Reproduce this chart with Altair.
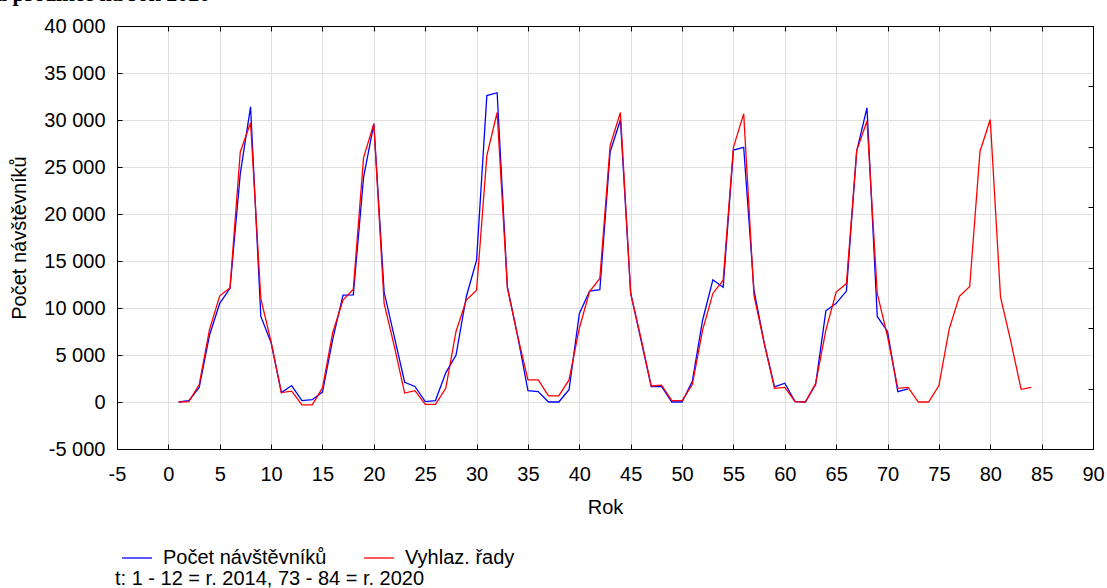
import altair as alt
import pandas as pd

# ---- data ----
t_blue = list(range(1, 73))
visitors = [0, 150, 1550, 7100, 10500, 12100, 24300, 31400, 9100, 6300, 1000, 1750,
            150, 250, 1050, 6700, 11370, 11400, 23900, 29600, 11700, 6900, 2100, 1650,
            50, 150, 3100, 5000, 11200, 15100, 32600, 32900, 12250, 7000, 1200, 1100,
            0, 0, 1300, 9400, 11800, 11950, 26600, 30000, 11550, 6600, 1650, 1650,
            0, 0, 2200, 8700, 13000, 12200, 26800, 27100, 11900, 6250, 1600, 2000,
            50, 0, 1850, 9700, 10500, 11800, 26700, 31300, 9100, 7500, 1100, 1400]
t_red = list(range(1, 85))
smoothed = [0, 50, 1850, 7700, 11300, 12150, 26600, 29700, 11000, 6400, 1000, 1150,
            -300, -300, 1500, 7400, 10850, 12000, 26000, 29600, 10500, 5900, 950, 1200,
            -250, -250, 1450, 7500, 10850, 11900, 26200, 30800, 12100, 7000, 2350, 2350,
            650, 650, 2350, 7850, 11750, 13150, 27300, 30800, 11550, 6800, 1700, 1800,
            150, 150, 1850, 7650, 11550, 12950, 27100, 30650, 11350, 6250, 1450, 1550,
            50, 0, 1950, 7650, 11700, 12600, 26750, 29900, 11550, 6950, 1450, 1550,
            0, 0, 1750, 7750, 11250, 12300, 26650, 30050, 11150, 6450, 1350, 1550]
series_names = ["Počet návštěvníků", "Vyhlaz. řady"]
series_colors = ["#0000ff", "#ff0000"]
x_ticks = list(range(-5, 91, 5))
y_ticks = list(range(-5000, 40001, 5000))
right_ticks = list(range(0, 8))
title_text = ["a predikce na rok 2020"]
note_text = ["t: 1 - 12 = r. 2014, 73 - 84 = r. 2020"]
x_title = "Rok"
y_title = "Počet návštěvníků"

FONT = "Liberation Sans"
FS = 20

df = pd.concat([
    pd.DataFrame({"t": t_blue, "v": visitors, "s": series_names[0]}),
    pd.DataFrame({"t": t_red, "v": smoothed, "s": series_names[1]}),
], ignore_index=True)

xscale = alt.Scale(domain=[-5, 90], nice=False, zero=False)
yscale = alt.Scale(domain=[-5000, 40000], nice=False, zero=False)

inward = alt.ExprRef(expr="-5")

lines = alt.Chart(df).mark_line(strokeWidth=1.3, clip=True).encode(
    x=alt.X("t:Q", scale=xscale,
            axis=alt.Axis(values=x_ticks, title=x_title, grid=True, gridColor="#e0e0e0",
                          tickSize=inward, tickColor="black", domainColor="black",
                          labelPadding=20, titlePadding=13,
                          labelExpr="datum.value < 0 ? '-' + abs(datum.value) : '' + datum.value",
                          labelFlush=False)),
    y=alt.Y("v:Q", scale=yscale,
            axis=alt.Axis(values=y_ticks, title=y_title, grid=True, gridColor="#e0e0e0",
                          tickSize=inward, tickColor="black", domainColor="black",
                          labelPadding=17, titlePadding=14,
                          labelExpr="(datum.value < 0 ? '-' : '') + (abs(datum.value) >= 1000 ? floor(abs(datum.value)/1000) + ' 000' : '0')",
                          labelFlush=False)),
    color=alt.Color("s:N", scale=alt.Scale(domain=series_names, range=series_colors),
                    legend=alt.Legend(title=None, orient="none", legendX=4, legendY=516,
                                      direction="horizontal", symbolType="stroke",
                                      symbolSize=900, symbolStrokeWidth=1.3,
                                      labelFontSize=FS, labelFont=FONT, labelColor="black",
                                      labelLimit=500,
                                      labelOffset=10, columnPadding=34)),
)

frame = alt.Chart(df).transform_calculate(dummy="0").mark_line(opacity=0).encode(
    x=alt.X("t:Q", scale=xscale,
            axis=alt.Axis(orient="top", values=x_ticks, labels=False, title=None, grid=False,
                          tickSize=inward, tickColor="black", domainColor="black")),
    y=alt.Y("dummy:Q", scale=alt.Scale(domain=[0, 7], nice=False),
            axis=alt.Axis(orient="right", values=right_ticks, labels=False, title=None,
                          grid=False, tickSize=inward, tickColor="black",
                          domainColor="black")),
)

title_layer = alt.Chart(pd.DataFrame({"txt": title_text})).mark_text(
    align="left", baseline="alphabetic", font="Liberation Serif", fontWeight="bold",
    fontSize=22, color="black").encode(text="txt:N", x=alt.value(-121), y=alt.value(-25))

note_layer = alt.Chart(pd.DataFrame({"txt": note_text})).mark_text(
    align="left", baseline="middle", font=FONT, fontSize=FS, color="black").encode(
    text="txt:N", x=alt.value(-2), y=alt.value(553))

chart = alt.layer(lines, frame, title_layer, note_layer).resolve_scale(
    y="independent").resolve_axis(x="independent", y="independent").properties(
    width=976, height=423,
    autosize=alt.AutoSizeParams(type="none"),
    padding={"left": 117, "top": 26, "right": 14, "bottom": 139},
    background="white",
).configure_view(stroke="black", strokeWidth=1).configure_axis(
    labelFont=FONT, titleFont=FONT, labelFontSize=FS, titleFontSize=FS,
    labelColor="black", titleColor="black", titleFontWeight="normal",
    domainWidth=1, tickWidth=1, gridWidth=1,
)

chart.save("out.html", embed_options={"renderer": "svg", "actions": False})
